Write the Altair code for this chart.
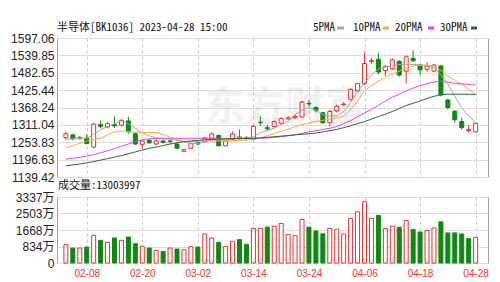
import altair as alt
import pandas as pd

dates = ["02-03", "02-06", "02-07", "02-08", "02-09", "02-10", "02-13", "02-14", "02-15", "02-16",
         "02-17", "02-20", "02-21", "02-22", "02-23", "02-24", "02-27", "02-28", "03-01", "03-02",
         "03-03", "03-06", "03-07", "03-08", "03-09", "03-10", "03-13", "03-14", "03-15", "03-16",
         "03-17", "03-20", "03-21", "03-22", "03-23", "03-24", "03-27", "03-28", "03-29", "03-30",
         "03-31", "04-03", "04-04", "04-06", "04-07", "04-10", "04-11", "04-12", "04-13", "04-14",
         "04-17", "04-18", "04-19", "04-20", "04-21", "04-24", "04-25", "04-26", "04-27", "04-28"]

opens = [1269, 1278, 1266, 1267, 1238, 1312, 1304, 1312, 1310, 1324,
         1282, 1247, 1260, 1248, 1258, 1258, 1248, 1224, 1234, 1252,
         1256, 1267, 1276, 1242, 1263, 1268, 1266, 1263, 1320, 1302,
         1306, 1316, 1331, 1334, 1337, 1382, 1368, 1351, 1318, 1357,
         1377, 1395, 1423, 1447, 1519, 1527, 1490, 1496, 1520, 1488,
         1530, 1508, 1494, 1488, 1505, 1393, 1356, 1322, 1292, 1288]
highs = [1289, 1282, 1274, 1280, 1318, 1326, 1320, 1339, 1330, 1337,
         1286, 1262, 1265, 1264, 1262, 1262, 1250, 1233, 1251, 1258,
         1272, 1287, 1280, 1260, 1290, 1296, 1274, 1310, 1340, 1312,
         1326, 1336, 1340, 1343, 1390, 1393, 1372, 1354, 1360, 1378,
         1385, 1432, 1450, 1549, 1532, 1549, 1508, 1530, 1524, 1540,
         1556, 1510, 1518, 1512, 1508, 1396, 1360, 1335, 1311, 1318]
lows = [1264, 1260, 1262, 1247, 1233, 1300, 1300, 1302, 1306, 1282,
        1245, 1232, 1248, 1244, 1250, 1250, 1232, 1220, 1232, 1244,
        1252, 1264, 1240, 1240, 1260, 1262, 1262, 1260, 1307, 1292,
        1302, 1312, 1328, 1330, 1335, 1372, 1352, 1315, 1307, 1352,
        1374, 1392, 1420, 1442, 1512, 1478, 1472, 1492, 1470, 1448,
        1518, 1475, 1486, 1484, 1405, 1362, 1318, 1295, 1285, 1285]
closes = [1282, 1265, 1270, 1250, 1313, 1306, 1315, 1308, 1326, 1288,
          1248, 1258, 1252, 1258, 1253, 1256, 1234, 1229, 1249, 1248,
          1268, 1281, 1242, 1258, 1281, 1271, 1269, 1306, 1318, 1298,
          1322, 1332, 1334, 1339, 1386, 1380, 1359, 1318, 1355, 1372,
          1380, 1428, 1447, 1513, 1523, 1485, 1503, 1525, 1475, 1535,
          1522, 1492, 1505, 1508, 1410, 1368, 1328, 1302, 1296, 1316]

ma5 = [1264, 1265, 1266, 1267, 1280, 1295, 1305, 1315, 1324, 1315,
       1300, 1285, 1275, 1268, 1266, 1264, 1260, 1255, 1250, 1250,
       1255, 1262, 1262, 1262, 1265, 1265, 1266, 1272, 1285, 1292,
       1300, 1312, 1322, 1345, 1360, 1368, 1360, 1345, 1340, 1340,
       1355, 1385, 1420, 1450, 1475, 1495, 1502, 1505, 1510, 1510,
       1510, 1510, 1505, 1500, 1475, 1445, 1405, 1368, 1340, 1320]
ma10 = [1236, 1243, 1250, 1258, 1263, 1267, 1278, 1288, 1291, 1289,
        1287, 1286, 1286, 1286, 1280, 1270, 1262, 1256, 1256, 1257,
        1258, 1258, 1258, 1259, 1259, 1260, 1261, 1263, 1268, 1275,
        1282, 1290, 1297, 1305, 1312, 1318, 1322, 1326, 1330, 1333,
        1340, 1360, 1390, 1423, 1440, 1455, 1467, 1478, 1488, 1497,
        1505, 1507, 1508, 1505, 1490, 1470, 1458, 1445, 1428, 1412]
ma20 = [1198, 1201, 1204, 1208, 1213, 1219, 1226, 1233, 1240, 1248,
        1256, 1262, 1265, 1267, 1267, 1267, 1267, 1267, 1267, 1267,
        1267, 1267, 1266, 1266, 1266, 1266, 1266, 1266, 1267, 1268,
        1270, 1272, 1275, 1279, 1283, 1288, 1292, 1296, 1300, 1305,
        1315, 1325, 1338, 1350, 1362, 1375, 1390, 1402, 1412, 1423,
        1432, 1440, 1447, 1452, 1455, 1452, 1448, 1446, 1444, 1442]
ma30 = [1176, 1179, 1182, 1186, 1190, 1195, 1200, 1205, 1210, 1216,
        1222, 1228, 1234, 1238, 1243, 1248, 1252, 1256, 1258, 1260,
        1262, 1263, 1264, 1265, 1266, 1266, 1267, 1267, 1268, 1270,
        1272, 1274, 1276, 1278, 1280, 1282, 1284, 1288, 1292, 1296,
        1302, 1308, 1315, 1322, 1330, 1338, 1346, 1355, 1365, 1375,
        1382, 1390, 1398, 1405, 1410, 1412, 1412, 1412, 1412, 1411]

# volume in 万
volumes = [927, 754, 754, 805, 1401, 1146, 1044, 1265, 1146, 1316,
           977, 840, 754, 637, 586, 754, 705, 670, 823, 805,
           1467, 1264, 1044, 840, 1095, 1180, 943, 1750, 1750, 1815,
           1860, 1998, 1436, 1385, 2200, 1815, 1620, 1476, 1750, 1707,
           1467, 2252, 2588, 3098, 2252, 2405, 1742, 1860, 1809, 2150,
           1691, 1569, 1640, 1775, 2080, 1520, 1520, 1467, 1233, 1300]
vol_up = [1, 0, 1, 0, 1, 0, 1, 0, 1, 0, 0, 1, 0, 1, 0, 1, 0, 1, 1, 0,
          1, 1, 0, 1, 1, 0, 0, 1, 1, 0, 1, 1, 1, 1, 1, 0, 0, 0, 1, 1,
          1, 1, 1, 1, 1, 0, 1, 1, 0, 1, 0, 0, 1, 1, 0, 0, 0, 0, 0, 1]

price_ticks = [1139.42, 1196.63, 1253.83, 1311.04, 1368.24, 1425.44, 1482.65, 1539.85, 1597.06]
vol_ticks = [0, 834, 1668, 2503, 3337]
label_idx = [3, 11, 19, 27, 35, 43, 51, 59]
ma_names = ["5PMA", "10PMA", "20PMA", "30PMA"]
ma_colors = ["#a6a6a6", "#f2b035", "#f03cf0", "#1e6e3c"]

RED = "#ee2f2f"
GREEN = "#0e8a12"
SANS = "Liberation Sans, Arial, 'Noto Sans CJK SC', sans-serif"
MONO = "'Noto Sans Mono CJK SC', 'Liberation Mono', monospace"

idx = list(range(len(dates)))
df = pd.DataFrame({"i": idx, "open": opens, "high": highs, "low": lows,
                   "close": closes, "vol": volumes, "vup": vol_up})
df["up"] = df["close"] >= df["open"]

ma_df = pd.concat([pd.DataFrame({"i": idx, "v": s, "name": n})
                   for n, s in zip(ma_names, [ma5, ma10, ma20, ma30])])

W, H1, H2 = 431, 139, 66
xscale = alt.Scale(domain=[-0.56, 60.06], nice=False, zero=False)
label_expr = "[" + ",".join("'%s'" % d for d in dates) + "][datum.value]"

x_top = alt.X("i:Q", scale=xscale, axis=alt.Axis(values=label_idx, labels=False, ticks=False,
              domain=False, grid=True, gridDash=[3, 3], gridColor="#c8c8c8", title=None))
x_bot = alt.X("i:Q", scale=xscale, axis=alt.Axis(values=label_idx, labelExpr=label_expr,
              ticks=False, domain=False, grid=True, gridDash=[3, 3], gridColor="#c8c8c8",
              labelColor=RED, labelFont=SANS, labelFontSize=10, labelPadding=5, title=None,
              labelFlush=False, labelOverlap=False))

yprice = alt.Scale(domain=[1139.42, 1597.06], nice=False, zero=False)
yaxis = alt.Axis(values=price_ticks, format=".2f", ticks=False, domain=False, grid=True,
                 gridColor="#dcdcdc", labelFont=SANS, labelFontSize=12, labelColor="#222",
                 labelPadding=3, title=None, labelOverlap=False, labelFlush=False)

base = alt.Chart(df)
wick = base.mark_rule(strokeWidth=1).encode(
    x=x_top,
    y=alt.Y("low:Q", scale=yprice, axis=yaxis),
    y2="high:Q",
    color=alt.condition("datum.up", alt.value(RED), alt.value(GREEN)),
)
body = base.mark_bar(size=4, strokeWidth=1).encode(
    x=x_top,
    y=alt.Y("open:Q", scale=yprice, axis=yaxis),
    y2="close:Q",
    fill=alt.condition("datum.up", alt.value("white"), alt.value(GREEN)),
    stroke=alt.condition("datum.up", alt.value(RED), alt.value(GREEN)),
)
lines = alt.Chart(ma_df).mark_line(strokeWidth=1).encode(
    x=x_top,
    y=alt.Y("v:Q", scale=yprice, axis=yaxis),
    color=alt.Color("name:N", scale=alt.Scale(domain=ma_names, range=ma_colors), legend=None),
    detail="name:N",
)

one = pd.DataFrame({"k": [0]})
watermark = alt.Chart(one).mark_text(text="东方财富", font="'Noto Sans CJK SC'", fontSize=40,
                                     fontWeight="bold", color="#000", opacity=0.05,
                                     align="center", baseline="middle").encode(
    x=alt.value(228), y=alt.value(70))
title_top = alt.Chart(one).mark_text(text="半导体[BK1036] 2023-04-28 15:00", font=MONO,
                                     fontSize=11, color="#111", align="left",
                                     baseline="middle").encode(x=alt.value(0), y=alt.value(-10))
legend_layers = []
leg_text_x = [256, 296, 338, 383]
leg_dash_x = [(280, 287), (326, 332), (371, 377), (414, 420)]
for n, c, tx, (d0, d1) in zip(ma_names, ma_colors, leg_text_x, leg_dash_x):
    legend_layers.append(alt.Chart(one).mark_text(text=n, font=MONO, fontSize=11, color="#111",
                                                  align="left", baseline="middle").encode(
        x=alt.value(tx), y=alt.value(-10)))
    legend_layers.append(alt.Chart(one).mark_rule(color=c, strokeWidth=3).encode(
        x=alt.value(d0), x2=alt.value(d1), y=alt.value(-10)))

upper = alt.layer(wick, body, lines, watermark, title_top, *legend_layers).properties(
    width=W, height=H1)

vol = base.mark_bar(size=4, strokeWidth=1).encode(
    x=x_bot,
    y=alt.Y("vol:Q", scale=alt.Scale(domain=[0, 3337], nice=False),
            axis=alt.Axis(values=vol_ticks, ticks=False, domain=False, grid=True,
                          gridColor="#dcdcdc", labelFont=SANS, labelFontSize=12,
                          labelColor="#222", labelPadding=3, title=None,
                          labelOverlap=False, labelFlush=False,
                          labelExpr="datum.value == 0 ? '0' : datum.value + '万'")),
    fill=alt.condition("datum.vup == 1", alt.value("white"), alt.value(GREEN)),
    stroke=alt.condition("datum.vup == 1", alt.value(RED), alt.value(GREEN)),
)
title_vol = alt.Chart(one).mark_text(text="成交量:13003997", font=MONO, fontSize=11,
                                     color="#111", align="left", baseline="middle").encode(
    x=alt.value(1), y=alt.value(-11))
lower = alt.layer(vol, title_vol).properties(width=W, height=H2)

chart = alt.vconcat(upper, lower, spacing=20, bounds="flush").properties(
    padding={"left": 10, "top": 21, "right": 5, "bottom": 5}
).configure_view(stroke="#a0a0a0", strokeWidth=1).configure_axis(labelOverlap=False)

chart.save("out.html", embed_options={"renderer": "svg", "actions": False})
